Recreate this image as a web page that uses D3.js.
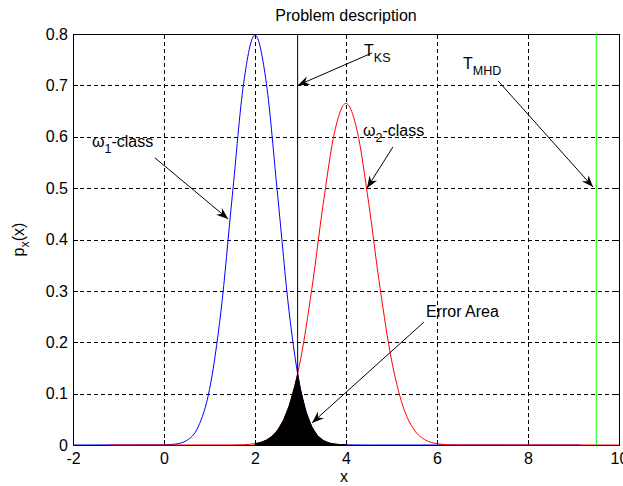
<!DOCTYPE html>
<meta charset="utf-8">
<style>
body { margin: 0; background: #fff; font-family: 'Liberation Sans', Arial, sans-serif; }
svg text { fill: #000; }
.grid line { stroke: #000; stroke-dasharray: 4,3; shape-rendering: crispEdges; }
.grid path { display: none; }
.tk path { display: none; }
.tk line { stroke: #000; shape-rendering: crispEdges; }
.tk text { font-size: 16px; font-family: 'Liberation Sans', Arial, sans-serif; }
</style>
<body>
<script src="https://d3js.org/d3.v7.min.js"></script>
<script>
// tick labels
var xTicks = [-2, 0, 2, 4, 6, 8, 10];
var yTicks = [0, 0.1, 0.2, 0.3, 0.4, 0.5, 0.6, 0.7, 0.8];

// omega_1 class density (blue)
var class1X = [-2, 0, 0.25, 0.5, 0.75, 1, 1.25, 1.5, 1.75, 2, 2.25, 2.5, 2.75, 3, 3.25, 3.5, 3.75, 4, 4.5, 9.15];
var class1Y = [0, 0.0003, 0.0018, 0.0089, 0.0351, 0.108, 0.259, 0.484, 0.704, 0.798, 0.704, 0.484, 0.259, 0.108, 0.0351, 0.0089, 0.0018, 0.0003, 0, 0];

// omega_2 class density (red)
var class2X = [-1.2, 1.5, 1.75, 2, 2.25, 2.5, 2.75, 3, 3.25, 3.5, 3.75, 4, 4.25, 4.5, 4.75, 5, 5.25, 5.5, 5.75, 6, 6.25, 6.5, 10];
var class2Y = [0, 0.0001, 0.0006, 0.0026, 0.0095, 0.0292, 0.0759, 0.1658, 0.3044, 0.4699, 0.6096, 0.6649, 0.6096, 0.4699, 0.3044, 0.1658, 0.0759, 0.0292, 0.0095, 0.0026, 0.0006, 0.0001, 0];

// error area (overlap of the two densities)
var errorX = [2, 2.125, 2.25, 2.375, 2.5, 2.625, 2.75, 2.875, 2.937, 3, 3.125, 3.25, 3.375, 3.5, 3.625, 3.75, 3.875, 4];
var errorY = [0.0026, 0.005, 0.0095, 0.017, 0.0292, 0.0481, 0.0759, 0.1146, 0.138, 0.108, 0.0635, 0.0351, 0.0182, 0.0089, 0.0041, 0.0018, 0.0007, 0.0003];

// thresholds
var tKS = 2.937, tMHD = 9.5;

var notes = [
  {main: "T", sub: "KS", rest: "", tx: 4.396, ty: 0.757, x1: 4.57, y1: 0.763, x2: 2.937, y2: 0.7},
  {main: "T", sub: "MHD", rest: "", tx: 6.571, ty: 0.732, x1: 7.34, y1: 0.709, x2: 9.43, y2: 0.502},
  {main: "ω", sub: "1", rest: "-class", tx: -1.582, ty: 0.58, x1: -0.2, y1: 0.559, x2: 1.41, y2: 0.44},
  {main: "ω", sub: "2", rest: "-class", tx: 4.374, ty: 0.601, x1: 5.03, y1: 0.58, x2: 4.46, y2: 0.5},
  {main: "Error Area", sub: "", rest: "", tx: 5.758, ty: 0.249, x1: 5.71, y1: 0.239, x2: 3.253, y2: 0.043}
];

var W = 623, H = 486;
var margin = {top: 34, right: 4, bottom: 41, left: 73};
var width = W - margin.left - margin.right,
    height = H - margin.top - margin.bottom;

var svg = d3.select("body").append("svg")
    .attr("width", W)
    .attr("height", H);

svg.append("defs").append("marker")
    .attr("id", "head")
    .attr("markerUnits", "userSpaceOnUse")
    .attr("viewBox", "-13 -6 14 12")
    .attr("refX", 0).attr("refY", 0)
    .attr("markerWidth", 14).attr("markerHeight", 12)
    .attr("orient", "auto")
  .append("path")
    .attr("d", "M0,0L-12,-4.5L-8,0L-12,4.5Z")
    .attr("fill", "#000");

var g = svg.append("g")
    .attr("transform", "translate(" + margin.left + "," + margin.top + ")");

var x = d3.scaleLinear().domain([-2, 10]).range([0, width]);
var y = d3.scaleLinear().domain([0, 0.8]).range([height, 0]);

// plain hyphen minus like the original
var fmt = function(d) { return d3.format("~g")(d).replace("−", "-"); };

// grid
g.append("g").attr("class", "grid")
    .attr("transform", "translate(0," + height + ")")
    .call(d3.axisBottom(x).tickValues(xTicks).tickSize(-height).tickFormat(""));
g.append("g").attr("class", "grid")
    .call(d3.axisLeft(y).tickValues(yTicks).tickSize(-width).tickFormat(""));

// frame
g.append("rect")
    .attr("width", width).attr("height", height)
    .attr("fill", "none").attr("stroke", "#000")
    .attr("shape-rendering", "crispEdges");

// ticks
g.append("g").attr("class", "tk")
    .attr("transform", "translate(0," + height + ")")
    .call(d3.axisBottom(x).tickValues(xTicks).tickSizeInner(-5).tickSizeOuter(0).tickPadding(8).tickFormat(fmt));
g.append("g").attr("class", "tk")
    .call(d3.axisLeft(y).tickValues(yTicks).tickSizeInner(-5).tickSizeOuter(0).tickPadding(5).tickFormat(fmt));
g.append("g").attr("class", "tk")
    .call(d3.axisTop(x).tickValues(xTicks).tickSizeInner(-5).tickSizeOuter(0).tickFormat(""));
g.append("g").attr("class", "tk")
    .attr("transform", "translate(" + width + ",0)")
    .call(d3.axisRight(y).tickValues(yTicks).tickSizeInner(-5).tickSizeOuter(0).tickFormat(""));

var line = d3.line()
    .x(function(d) { return x(d[0]); })
    .y(function(d) { return y(d[1]); })
    .curve(d3.curveMonotoneX);

g.append("path")
    .datum(d3.zip(class1X, class1Y))
    .attr("d", line)
    .attr("fill", "none").attr("stroke", "#0000ff").attr("stroke-width", 1);

g.append("path")
    .datum(d3.zip(class2X, class2Y))
    .attr("d", line)
    .attr("fill", "none").attr("stroke", "#ff0000").attr("stroke-width", 1);

var area = d3.area()
    .x(function(d) { return x(d[0]); })
    .y0(y(0))
    .y1(function(d) { return y(d[1]); });

g.append("path")
    .datum(d3.zip(errorX, errorY))
    .attr("d", area)
    .attr("fill", "#000").attr("stroke", "#000").attr("stroke-width", 1);

// threshold lines
g.append("line")
    .attr("x1", x(tKS)).attr("x2", x(tKS))
    .attr("y1", y(0)).attr("y2", y(0.8))
    .attr("stroke", "#000").attr("stroke-width", 1);
g.append("line")
    .attr("x1", x(tMHD)).attr("x2", x(tMHD))
    .attr("y1", y(0)).attr("y2", y(0.8))
    .attr("stroke", "#00ff00").attr("stroke-width", 1);

// annotations
notes.forEach(function(n) {
  g.append("line")
      .attr("x1", x(n.x1)).attr("y1", y(n.y1))
      .attr("x2", x(n.x2)).attr("y2", y(n.y2))
      .attr("stroke", "#000").attr("stroke-width", 1)
      .attr("marker-end", "url(#head)");
  var t = g.append("text")
      .attr("x", x(n.tx)).attr("y", y(n.ty))
      .style("font-size", "16px");
  t.append("tspan").text(n.main);
  if (n.sub) t.append("tspan").attr("dy", 6).style("font-size", "12.5px").text(n.sub);
  if (n.rest) t.append("tspan").attr("dy", -6).text(n.rest);
});

// title and axis labels
svg.append("text")
    .attr("x", margin.left + width / 2).attr("y", 21)
    .attr("text-anchor", "middle").style("font-size", "16px")
    .text("Problem description");

svg.append("text")
    .attr("x", margin.left + width / 2 - 2).attr("y", 482)
    .attr("text-anchor", "middle").style("font-size", "16px")
    .text("x");

var yl = svg.append("text")
    .attr("transform", "translate(24," + (margin.top + height / 2) + ") rotate(-90)")
    .attr("text-anchor", "middle").style("font-size", "16px");
yl.append("tspan").text("p");
yl.append("tspan").attr("dy", 5).style("font-size", "12.5px").text("x");
yl.append("tspan").attr("dy", -5).text("(x)");
</script>
</body>
